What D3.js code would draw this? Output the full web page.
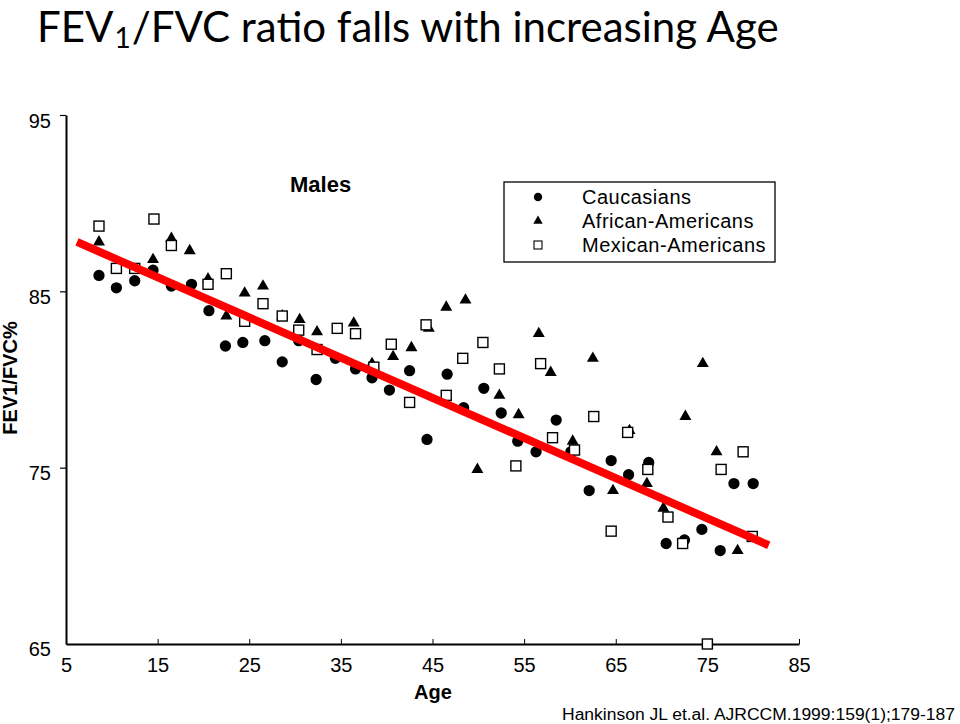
<!DOCTYPE html>
<html>
<head>
<meta charset="utf-8">
<script src="https://cdn.jsdelivr.net/npm/d3@7"></script>
<style>
  body { margin: 0; background: #fff; }
  svg { display: block; }
</style>
</head>
<body>
<svg id="chart" width="960" height="724"></svg>
<script>
// ---- Data ----
const caucAges   = [8.6,10.5,12.5,14.5,16.5,18.7,20.6,22.4,24.3,26.7,28.6,30.4,32.3,34.4,36.6,38.4,40.3,42.5,44.4,46.6,48.4,50.6,52.5,54.3,56.3,58.5,60.1,62.1,64.5,66.4,68.6,70.5,72.5,74.4,76.4,77.9,80.0];
const caucValues = [85.9,85.2,85.6,86.2,85.3,85.4,83.9,81.9,82.1,82.2,81.0,82.2,80.0,81.2,80.6,80.1,79.4,80.5,76.6,80.3,78.4,79.5,78.1,76.5,75.9,77.7,75.9,73.7,75.4,74.6,75.3,70.7,70.9,71.5,70.3,74.1,74.1];

const afrAges   = [8.6,10.5,14.5,16.5,18.5,20.5,22.5,24.5,26.5,28.6,30.5,32.4,36.4,38.4,40.7,42.7,44.6,46.5,48.6,49.9,52.3,54.4,56.6,57.9,60.3,62.5,64.7,66.5,68.4,70.2,72.6,74.5,76.0,78.3];
const afrValues = [87.8,86.3,86.8,88.0,87.3,85.7,83.6,84.9,85.3,83.6,83.4,82.7,83.2,80.9,81.3,81.8,82.9,84.1,84.5,74.9,79.1,78.0,82.6,80.4,76.5,81.2,73.7,77.1,74.1,72.7,77.9,80.9,75.9,70.3];

const mexAges   = [8.6,10.5,12.5,14.6,16.5,20.5,22.5,24.5,26.5,28.6,30.4,32.4,34.6,36.6,38.6,40.5,42.5,44.3,46.5,48.3,50.5,52.3,54.1,56.8,58.1,60.5,62.6,64.5,66.3,68.5,70.7,72.3,75.0,76.5,78.9,79.9];
const mexValues = [88.7,86.3,86.3,89.1,87.6,85.4,86.0,83.3,84.3,83.6,82.8,81.7,82.9,82.6,80.7,82.0,78.7,83.1,79.1,81.2,82.1,80.6,75.1,80.9,76.7,76.0,77.9,71.4,77.0,74.9,72.2,70.7,65.0,74.9,75.9,71.1];

const fitAges   = [6.2, 81.7];
const fitValues = [87.8, 70.6];

const xTickValues = [5,15,25,35,45,55,65,75,85];
const yTickValues = [65,75,85,95];
const seriesNames = ["Caucasians","African-Americans","Mexican-Americans"];
const titleParts = ["FEV", "1", "/FVC ratio falls with increasing Age"];

// ---- Drawing ----
const svg = d3.select("#chart");
const x = d3.scaleLinear().domain([5, 85]).range([66, 799]);
const y = d3.scaleLinear().domain([65, 95]).range([644, 115]);

const font = "'Liberation Sans', Arial, sans-serif";
const titleFont = "Lato, 'Open Sans', sans-serif";

// Title (three separate text pieces, subscript "1")
let tx = 37;
const t1 = svg.append("text").attr("x", tx).attr("y", 42)
  .attr("font-family", titleFont).attr("font-size", 42).text(titleParts[0]);
tx += t1.node().getComputedTextLength() + 1;
const t2 = svg.append("text").attr("x", tx).attr("y", 48)
  .attr("font-family", titleFont).attr("font-size", 28).text(titleParts[1]);
tx += t2.node().getComputedTextLength() + 1;
svg.append("text").attr("x", tx).attr("y", 42)
  .attr("font-family", titleFont).attr("font-size", 42).text(titleParts[2]);

// Axes
const gx = svg.append("g").attr("transform", `translate(0,${y(65)})`)
  .call(d3.axisBottom(x).tickValues(xTickValues).tickSizeInner(-5).tickSizeOuter(0).tickPadding(14).tickFormat(d3.format("d")));
gx.selectAll("text").attr("font-family", font).attr("font-size", 20).attr("fill", "#000");
gx.select(".domain").attr("stroke", "#000").attr("stroke-width", 2);
gx.selectAll(".tick line").attr("stroke", "#000").attr("stroke-width", 1);
gx.selectAll(".tick").filter(d => d === 5).select("line").remove();

const gy = svg.append("g").attr("transform", `translate(${x(5)},0)`)
  .call(d3.axisLeft(y).tickValues(yTickValues).tickSize(6).tickSizeOuter(0).tickPadding(9).tickFormat(d3.format("d")));
gy.selectAll("text").attr("font-family", font).attr("font-size", 20).attr("fill", "#000").attr("dy", "0.6em");
gy.select(".domain").attr("stroke", "#000").attr("stroke-width", 2);
gy.selectAll(".tick line").attr("stroke", "#000").attr("stroke-width", 1.2);
gy.selectAll(".tick").filter(d => d === 65).select("line").remove();
gy.selectAll(".tick").filter(d => d === 65).select("text").attr("dy", "0.55em");

// Axis titles
svg.append("text").attr("x", 433).attr("y", 699)
  .attr("text-anchor", "middle").attr("font-family", font)
  .attr("font-weight", "bold").attr("font-size", 20).text("Age");
svg.append("text")
  .attr("transform", "translate(17,378) rotate(-90)")
  .attr("text-anchor", "middle").attr("font-family", font)
  .attr("font-weight", "bold").attr("font-size", 20).text("FEV1/FVC%");

// "Males"
svg.append("text").attr("x", 290).attr("y", 192)
  .attr("font-family", font).attr("font-weight", "bold").attr("font-size", 22).text("Males");

// Points
const plot = svg.append("g");
const circleSym = d3.symbol().type(d3.symbolCircle).size(100);
const triSym = d3.symbol().type(d3.symbolTriangle).size(62);

plot.selectAll(".cauc").data(caucAges.map((a,i)=>[a,caucValues[i]])).join("path")
  .attr("class","cauc").attr("d", circleSym)
  .attr("transform", d => `translate(${x(d[0])},${y(d[1])})`).attr("fill", "#000");

plot.selectAll(".afr").data(afrAges.map((a,i)=>[a,afrValues[i]])).join("path")
  .attr("class","afr").attr("d", triSym)
  .attr("transform", d => `translate(${x(d[0])},${y(d[1])})`).attr("fill", "#000");

plot.selectAll(".mex").data(mexAges.map((a,i)=>[a,mexValues[i]])).join("rect")
  .attr("class","mex")
  .attr("x", d => x(d[0]) - 5).attr("y", d => y(d[1]) - 5)
  .attr("width", 10).attr("height", 10)
  .attr("fill", "#fff").attr("stroke", "#000").attr("stroke-width", 1.4);

// Fitted line (red)
svg.append("path")
  .datum(fitAges.map((a,i)=>[a,fitValues[i]]))
  .attr("d", d3.line().x(d => x(d[0])).y(d => y(d[1])))
  .attr("stroke", "#ff0000").attr("stroke-width", 8).attr("fill", "none");

// Legend
const lg = svg.append("g");
lg.append("rect").attr("x", 504).attr("y", 182).attr("width", 271).attr("height", 80)
  .attr("fill", "#fff").attr("stroke", "#000").attr("stroke-width", 1.3);
const rowsY = [197, 221, 245];
lg.append("path").attr("d", d3.symbol().type(d3.symbolCircle).size(55))
  .attr("transform", `translate(538,${rowsY[0]})`).attr("fill", "#000");
lg.append("path").attr("d", d3.symbol().type(d3.symbolTriangle).size(38))
  .attr("transform", `translate(538,${rowsY[1]})`).attr("fill", "#000");
lg.append("rect").attr("x", 534).attr("y", rowsY[2]-4).attr("width", 8).attr("height", 8)
  .attr("fill", "#fff").attr("stroke", "#000").attr("stroke-width", 1.1);
seriesNames.forEach((n,i) => {
  lg.append("text").attr("x", 582).attr("y", rowsY[i] + 7)
    .attr("font-family", font).attr("font-size", 20).attr("letter-spacing", 0.5).text(n);
});

// Citation
svg.append("text").attr("x", 562).attr("y", 720)
  .attr("font-family", "'Liberation Sans Narrow', 'Liberation Sans', Arial, sans-serif")
  .attr("font-size", 16).attr("textLength", 393).attr("lengthAdjust", "spacingAndGlyphs")
  .text("Hankinson JL et.al.  AJRCCM.1999:159(1);179-187");
</script>
</body>
</html>
